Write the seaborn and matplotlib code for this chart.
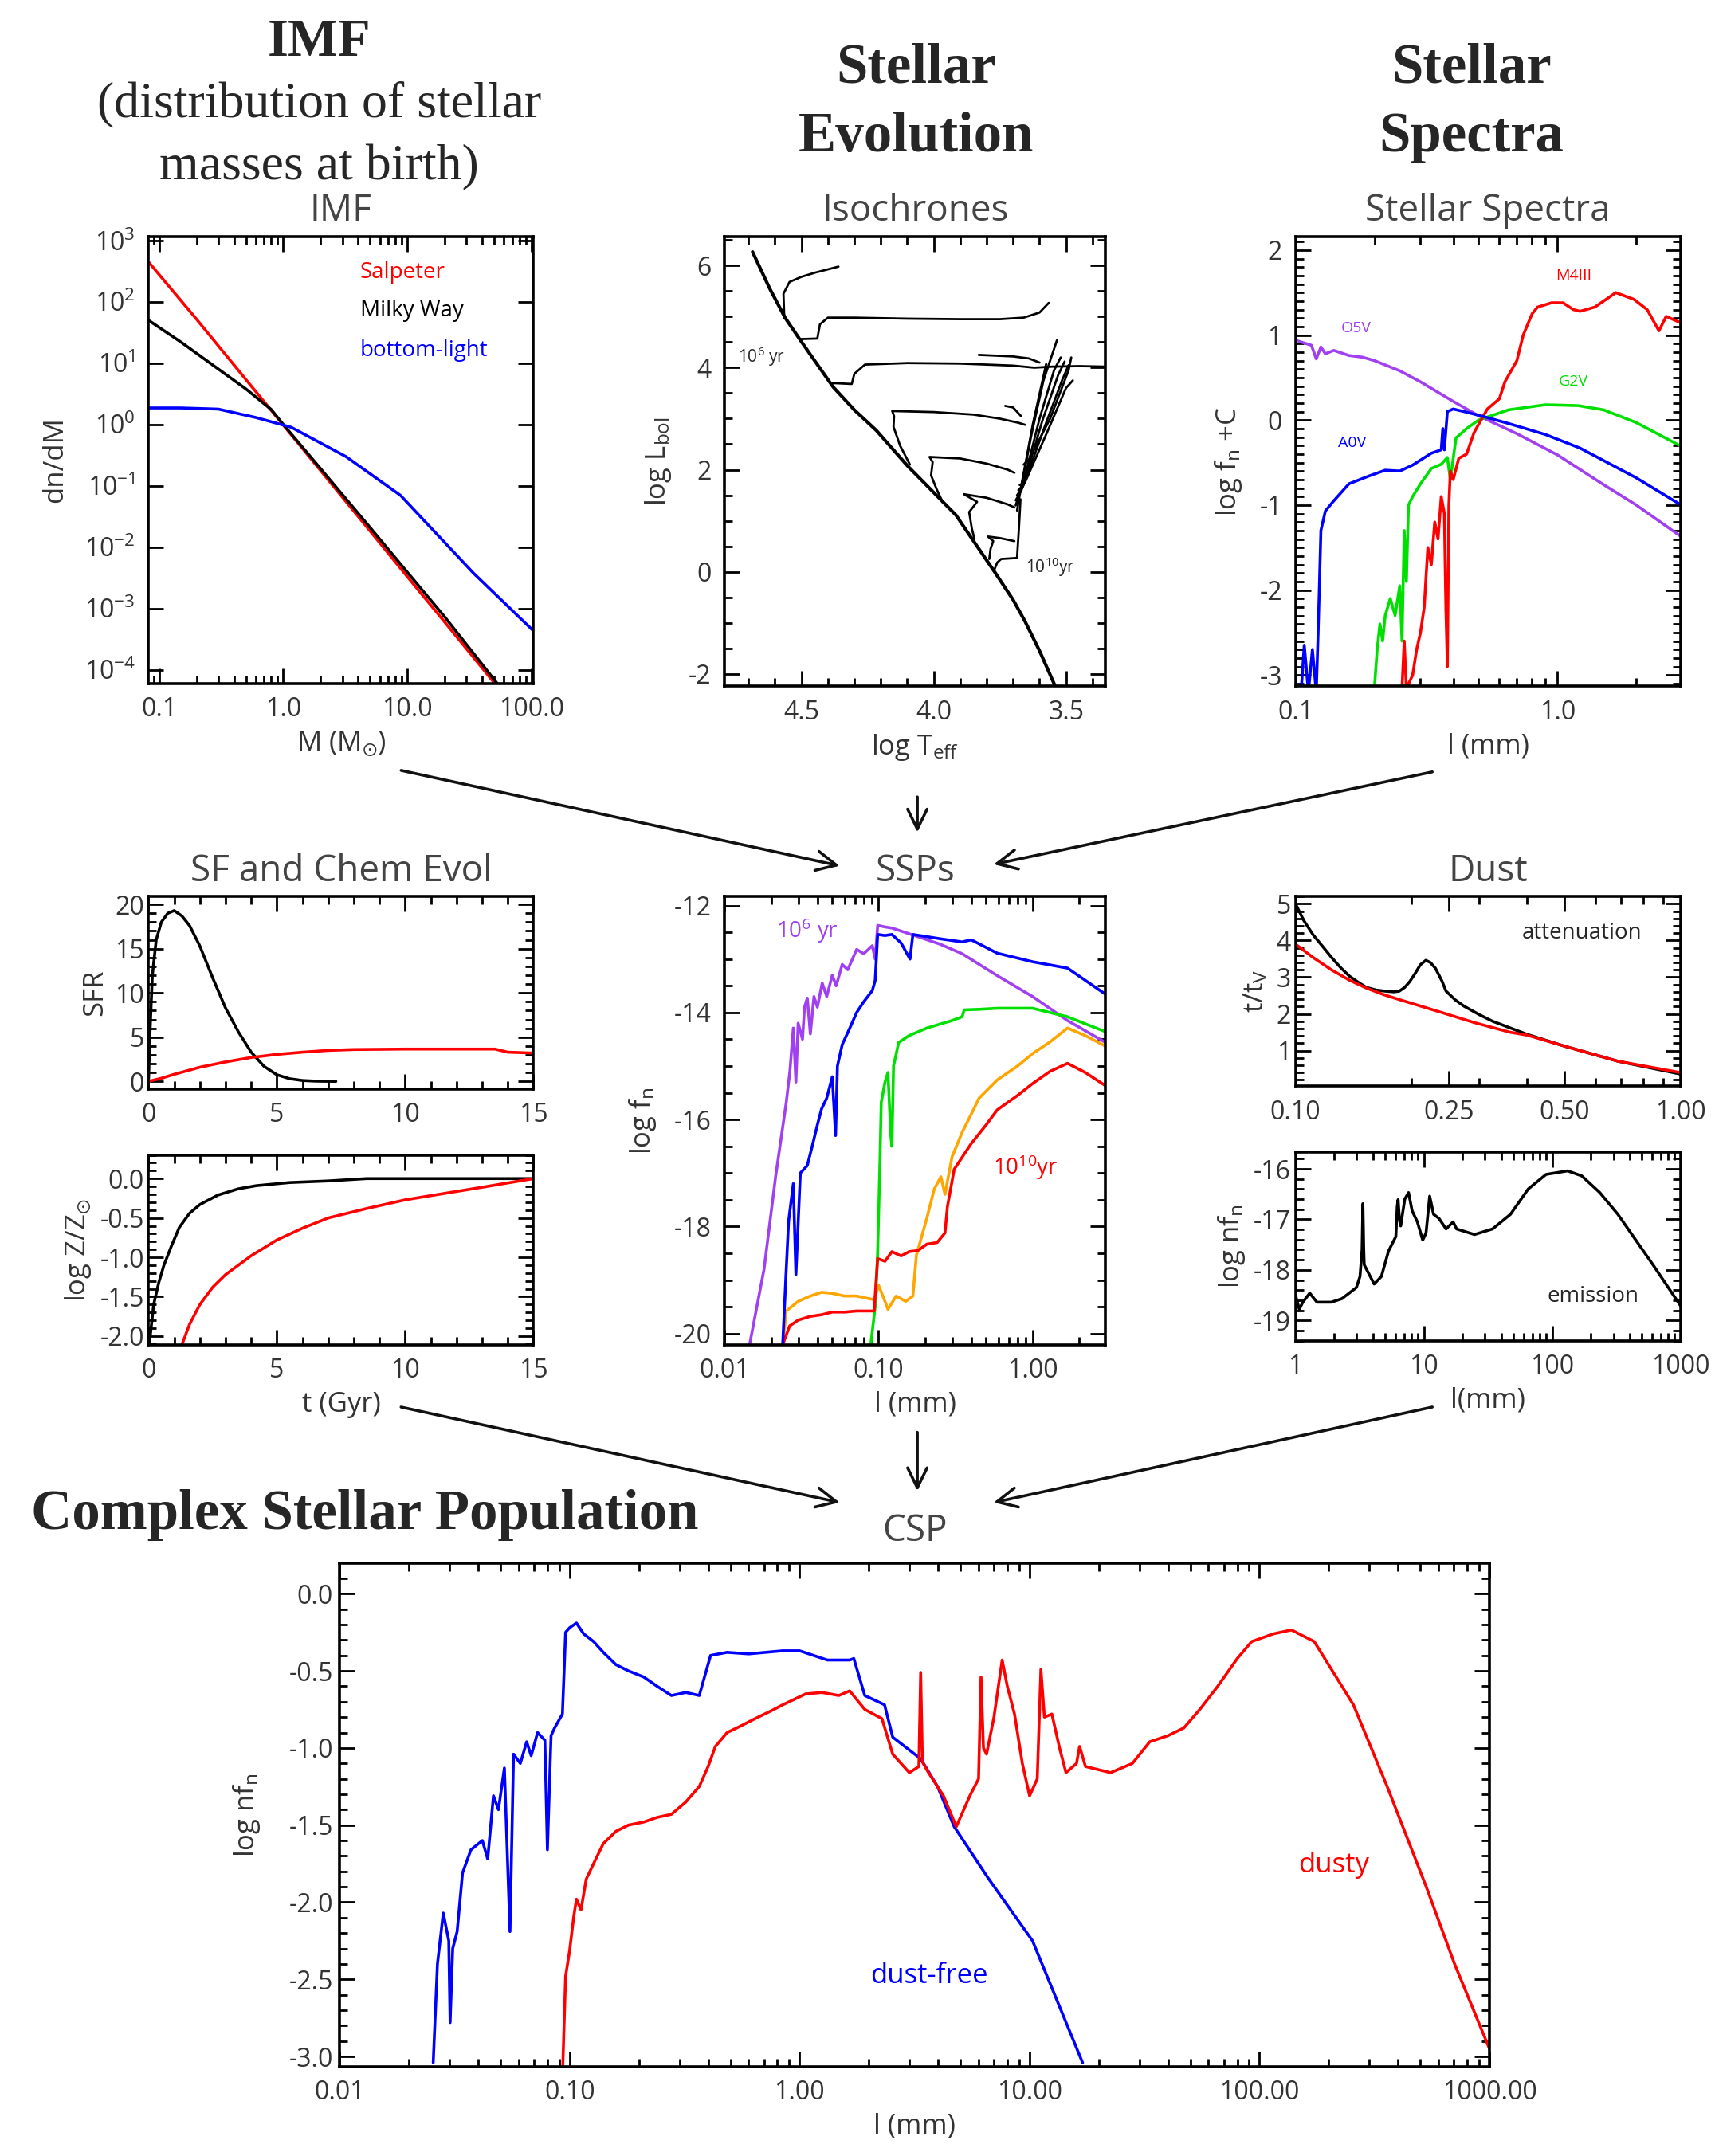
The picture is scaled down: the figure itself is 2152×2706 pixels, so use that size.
import matplotlib
matplotlib.use("Agg")
import matplotlib.pyplot as plt
import seaborn as sns
from matplotlib.patches import FancyArrowPatch
from matplotlib.ticker import (FixedLocator, FixedFormatter, MultipleLocator,
                               NullFormatter, NullLocator)

# ---------------- DATA ----------------
# IMF panel
imf_salp_m = [0.082, 0.2, 0.5, 1.0, 2.0, 5.0, 10.0, 20.0, 51.0]
imf_salp_n = [447, 52, 5.4, 0.98, 0.177, 0.0184, 3.3e-3, 6.0e-4, 5.9e-5]
imf_mw_m = [0.082, 0.15, 0.3, 0.5, 0.8, 1.0, 2.0, 5.0, 10.0, 20.0, 53.0]
imf_mw_n = [50, 22, 8.0, 3.8, 1.75, 1.0, 0.19, 0.021, 3.9e-3, 7.3e-4, 6e-5]
imf_bl_m = [0.082, 0.15, 0.3, 0.6, 1.16, 3.2, 8.8, 34, 104]
imf_bl_n = [1.86, 1.86, 1.78, 1.3, 0.9, 0.30, 0.07, 3.8e-3, 4.3e-4]
imf_legend = ["Salpeter", "Milky Way", "bottom-light"]

# Isochrones panel
ms_logt = [4.685, 4.62, 4.562, 4.507, 4.452, 4.38, 4.30, 4.217, 4.10, 3.99, 3.916,
           3.84, 3.765, 3.70, 3.655, 3.60, 3.541]
ms_logl = [6.27, 5.55, 4.98, 4.56, 4.15, 3.62, 3.17, 2.77, 2.08, 1.50, 1.11,
           0.53, -0.04, -0.55, -0.97, -1.55, -2.24]
iso_a_t = [4.565, 4.568, 4.545, 4.50, 4.45, 4.36]
iso_a_l = [4.98, 5.45, 5.68, 5.78, 5.86, 5.98]
iso_b_t = [4.507, 4.44, 4.43, 4.40, 4.30, 4.10, 3.90, 3.75, 3.66, 3.60, 3.565]
iso_b_l = [4.56, 4.57, 4.85, 4.98, 4.98, 4.96, 4.95, 4.95, 4.98, 5.08, 5.27]
iso_c_t = [4.39, 4.31, 4.30, 4.26, 4.10, 3.90, 3.70, 3.62, 3.55, 3.45, 3.35]
iso_c_l = [3.70, 3.68, 3.88, 4.06, 4.09, 4.08, 4.04, 4.00, 4.02, 4.03, 4.02]
iso_c2_t = [3.83, 3.70, 3.64, 3.60]
iso_c2_l = [4.25, 4.22, 4.18, 4.10]
iso_d_t = [4.09, 4.127, 4.152, 4.15, 4.157, 4.0, 3.85, 3.75, 3.68, 3.655]
iso_d_l = [2.10, 2.47, 2.84, 3.05, 3.15, 3.13, 3.08, 3.0, 2.92, 2.88]
iso_d2_t = [3.73, 3.70, 3.67]
iso_d2_l = [3.25, 3.22, 3.05]
iso_e_t = [3.965, 3.99, 4.01, 4.004, 4.016, 3.90, 3.80, 3.72, 3.695]
iso_e_l = [1.35, 1.63, 1.89, 2.15, 2.25, 2.22, 2.12, 2.0, 1.94]
iso_f_t = [3.846, 3.856, 3.866, 3.836, 3.886, 3.80, 3.72, 3.695]
iso_f_l = [0.64, 0.85, 1.17, 1.37, 1.52, 1.45, 1.32, 1.26]
iso_g_t = [3.79, 3.785, 3.775, 3.795, 3.75, 3.695]
iso_g_l = [0.25, 0.45, 0.60, 0.69, 0.66, 0.60]
iso_h_t = [3.77, 3.76, 3.745, 3.685, 3.678, 3.672]
iso_h_l = [0.05, 0.18, 0.25, 0.27, 0.84, 1.42]
rgb1_t = [3.685, 3.675, 3.63, 3.585, 3.534]
rgb1_l = [1.2, 1.5, 2.7, 3.75, 4.54]
rgb2_t = [3.69, 3.672, 3.625, 3.575]
rgb2_l = [1.3, 1.6, 2.9, 4.07]
rgb3_t = [3.69, 3.668, 3.60, 3.545, 3.52]
rgb3_l = [1.4, 1.6, 3.0, 3.95, 4.2]
rgb4_t = [3.685, 3.664, 3.59, 3.53, 3.505]
rgb4_l = [1.5, 1.65, 2.95, 3.85, 4.12]
rgb5_t = [3.68, 3.66, 3.58, 3.515, 3.49]
rgb5_l = [1.6, 1.7, 2.85, 3.75, 4.05]
rgb6_t = [3.675, 3.655, 3.57, 3.50, 3.474]
rgb6_l = [1.7, 1.75, 2.75, 3.6, 3.75]
rgb7_t = [3.66, 3.64, 3.56, 3.49, 3.48]
rgb7_l = [2.1, 2.2, 3.0, 3.95, 4.2]

# Stellar spectra panel
o5v_x = [0.10, 0.115, 0.12, 0.125, 0.13, 0.14, 0.16, 0.18, 0.2, 0.25, 0.3, 0.4, 0.5, 0.7, 1.0, 1.5, 2.0, 2.93]
o5v_y = [0.94, 0.88, 0.72, 0.86, 0.78, 0.82, 0.76, 0.74, 0.70, 0.58, 0.45, 0.22, 0.05, -0.16, -0.41, -0.76, -1.0, -1.36]
a0v_x = [0.105, 0.108, 0.112, 0.116, 0.120, 0.122, 0.125, 0.13, 0.14, 0.16, 0.19, 0.22, 0.25, 0.28,
         0.33, 0.36, 0.365, 0.37, 0.38, 0.40, 0.44, 0.51, 0.65, 0.9, 1.22, 2.0, 2.93]
a0v_y = [-3.2, -2.65, -3.2, -2.7, -3.2, -2.5, -1.3, -1.07, -0.95, -0.75, -0.66, -0.59, -0.60, -0.53,
         -0.39, -0.35, -0.10, -0.35, 0.10, 0.13, 0.10, 0.05, -0.04, -0.17, -0.33, -0.68, -0.99]
g2v_x = [0.20, 0.205, 0.21, 0.215, 0.22, 0.23, 0.24, 0.25, 0.255, 0.26, 0.265, 0.27, 0.28, 0.30,
         0.33, 0.36, 0.38, 0.39, 0.41, 0.45, 0.5, 0.65, 0.9, 1.2, 1.5, 2.0, 2.93]
g2v_y = [-3.16, -2.7, -2.4, -2.6, -2.3, -2.1, -2.3, -1.95, -2.6, -1.3, -1.9, -1.0, -0.9, -0.75,
         -0.57, -0.52, -0.44, -0.7, -0.21, -0.10, 0.0, 0.12, 0.18, 0.17, 0.12, -0.03, -0.30]
m4iii_x = [0.255, 0.26, 0.265, 0.28, 0.29, 0.30, 0.31, 0.32, 0.33, 0.34, 0.35, 0.36, 0.37, 0.375,
           0.38, 0.385, 0.39, 0.40, 0.42, 0.45, 0.48, 0.50, 0.54, 0.60, 0.63, 0.70, 0.74, 0.80,
           0.84, 0.95, 1.05, 1.15, 1.22, 1.39, 1.5, 1.67, 1.96, 2.2, 2.44, 2.6, 2.93]
m4iii_y = [-3.16, -2.6, -3.16, -3.0, -2.7, -2.5, -2.2, -1.5, -1.7, -1.2, -1.4, -0.9, -1.1, -2.2,
           -2.9, -1.0, -0.6, -0.7, -0.45, -0.4, -0.15, -0.05, 0.13, 0.25, 0.45, 0.7, 1.0, 1.25,
           1.33, 1.38, 1.38, 1.30, 1.28, 1.33, 1.40, 1.50, 1.42, 1.30, 1.05, 1.22, 1.15]

# SF and chemical evolution
sfr_black_t = [0, 0.05, 0.15, 0.3, 0.5, 0.75, 1.0, 1.3, 1.6, 2.0, 2.5, 3.0, 3.5, 4.0, 4.5, 5.0, 5.5, 6.0, 6.5, 7.3]
sfr_black = [0, 5, 12, 16, 18, 19, 19.3, 18.7, 17.6, 15.3, 11.7, 8.3, 5.6, 3.3, 1.7, 0.75, 0.3, 0.1, 0.03, 0.0]
sfr_red_t = [0, 0.5, 1.0, 1.5, 2, 3, 4, 5, 6, 7, 8, 10, 13.5, 14, 15]
sfr_red = [0, 0.35, 0.8, 1.2, 1.6, 2.2, 2.7, 3.05, 3.3, 3.5, 3.6, 3.65, 3.65, 3.3, 3.2]
z_black_t = [0.03, 0.1, 0.2, 0.4, 0.6, 0.9, 1.2, 1.6, 2.0, 2.7, 3.5, 4.2, 5.5, 7, 8.5, 15]
z_black = [-2.11, -1.9, -1.6, -1.32, -1.1, -0.85, -0.62, -0.44, -0.33, -0.21, -0.13, -0.09, -0.05, -0.03, 0.0, 0.0]
z_red_t = [1.3, 1.6, 2.0, 2.5, 3.0, 4.0, 5.0, 6.0, 7.0, 8.5, 10, 11.5, 13, 15]
z_red = [-2.11, -1.85, -1.6, -1.38, -1.22, -0.98, -0.78, -0.63, -0.50, -0.38, -0.27, -0.19, -0.11, 0.0]

# SSPs
ssp_p_x = [0.0145, 0.018, 0.0214, 0.0251, 0.0265, 0.0279, 0.029, 0.030, 0.032, 0.033, 0.0344, 0.036,
           0.038, 0.040, 0.043, 0.046, 0.050, 0.053, 0.058, 0.063, 0.072, 0.080, 0.091, 0.095,
           0.0986, 0.11, 0.122, 0.167, 0.25, 0.349, 0.59, 1.0, 1.69, 2.99]
ssp_p_y = [-20.21, -18.8, -17.07, -15.68, -15.1, -14.29, -15.3, -14.2, -14.5, -13.9, -13.73, -14.4,
           -13.7, -13.9, -13.45, -13.7, -13.3, -13.5, -13.1, -13.2, -12.82, -12.9, -12.75, -13.0,
           -12.37, -12.4, -12.42, -12.55, -12.72, -12.9, -13.31, -13.7, -14.15, -14.56]
ssp_b_x = [0.0238, 0.0251, 0.026, 0.0279, 0.029, 0.031, 0.0344, 0.037, 0.040, 0.0426, 0.046, 0.050,
           0.0525, 0.054, 0.058, 0.065, 0.072, 0.080, 0.091, 0.095, 0.0986, 0.11, 0.122, 0.14, 0.16,
           0.167, 0.25, 0.349, 0.40, 0.59, 1.0, 1.69, 2.99]
ssp_b_y = [-20.21, -18.8, -17.9, -17.2, -18.9, -17.0, -16.86, -16.5, -16.1, -15.8, -15.6, -15.2,
           -16.3, -15.0, -14.6, -14.29, -14.0, -13.8, -13.59, -13.4, -12.54, -12.56, -12.54, -12.7, -13.0,
           -12.54, -12.62, -12.68, -12.64, -12.89, -13.05, -13.17, -13.66]
ssp_g_x = [0.0889, 0.095, 0.0986, 0.102, 0.104, 0.11, 0.115, 0.12, 0.122, 0.125, 0.135, 0.158, 0.206,
           0.30, 0.349, 0.36, 0.45, 0.6, 1.0, 1.69, 2.99]
ssp_g_y = [-20.21, -19.5, -18.47, -16.8, -15.68, -15.3, -15.12, -16.3, -16.5, -15.0, -14.56, -14.43,
           -14.29, -14.15, -14.08, -13.95, -13.94, -13.92, -13.92, -14.08, -14.36]
ssp_o_x = [0.0238, 0.0251, 0.030, 0.036, 0.0426, 0.05, 0.06, 0.072, 0.0935, 0.1, 0.11, 0.115, 0.13,
           0.15, 0.167, 0.176, 0.19, 0.206, 0.23, 0.254, 0.27, 0.30, 0.349, 0.40, 0.45, 0.59, 0.8,
           1.0, 1.3, 1.69, 2.2, 2.99]
ssp_o_y = [-20.21, -19.58, -19.4, -19.3, -19.23, -19.25, -19.3, -19.3, -19.37, -19.1, -19.4, -19.55,
           -19.3, -19.4, -19.3, -18.54, -18.2, -17.84, -17.3, -17.07, -17.4, -16.7, -16.24, -15.9,
           -15.6, -15.26, -15.0, -14.77, -14.55, -14.29, -14.43, -14.63]
ssp_r_x = [0.0238, 0.0264, 0.030, 0.036, 0.0426, 0.05, 0.06, 0.072, 0.0935, 0.0986, 0.11, 0.122,
           0.14, 0.158, 0.18, 0.206, 0.24, 0.27, 0.28, 0.31, 0.35, 0.40, 0.5, 0.59, 0.8, 1.0, 1.3,
           1.69, 2.2, 2.99]
ssp_r_y = [-20.21, -19.86, -19.75, -19.68, -19.65, -19.6, -19.6, -19.58, -19.58, -18.6, -18.65,
           -18.47, -18.55, -18.47, -18.45, -18.33, -18.3, -18.12, -17.63, -16.93, -16.7, -16.45,
           -16.1, -15.82, -15.55, -15.33, -15.1, -14.95, -15.12, -15.37]

# Dust
att_black_x = [0.1, 0.105, 0.111, 0.118, 0.124, 0.131, 0.138, 0.146, 0.153, 0.162, 0.171, 0.18,
               0.186, 0.192, 0.198, 0.205, 0.211, 0.218, 0.224, 0.231, 0.24, 0.246, 0.26, 0.274,
               0.3, 0.325, 0.4, 0.5, 0.688, 1.0]
att_black_y = [5.0, 4.55, 4.16, 3.82, 3.54, 3.26, 3.03, 2.85, 2.72, 2.65, 2.62, 2.6, 2.62, 2.72,
               2.88, 3.12, 3.34, 3.46, 3.4, 3.24, 2.9, 2.62, 2.38, 2.21, 1.98, 1.8, 1.44, 1.12, 0.71, 0.36]
att_red_x = [0.1, 0.111, 0.124, 0.138, 0.153, 0.17, 0.19, 0.236, 0.292, 0.361, 0.4, 0.5, 0.688, 1.0]
att_red_y = [3.9, 3.54, 3.2, 2.92, 2.7, 2.52, 2.36, 2.06, 1.76, 1.5, 1.42, 1.12, 0.71, 0.40]
em_x = [1.0, 1.07, 1.14, 1.29, 1.47, 1.9, 2.3, 2.98, 3.18, 3.30, 3.35, 3.40, 3.43, 4.1, 4.67, 5.3,
        6.05, 6.2, 6.3, 6.45, 6.6, 7.1, 7.6, 8.1, 8.9, 9.8, 10.4, 11.1, 11.9, 13.1, 14.9, 16.9, 18,
        24.8, 34.3, 47.3, 65, 89.6, 132, 170, 235, 325, 448, 618, 1000]
em_y = [-18.5, -18.78, -18.64, -18.46, -18.64, -18.64, -18.57, -18.35, -18.13, -17.6, -16.69, -17.6,
        -17.9, -18.28, -18.13, -17.63, -17.34, -16.75, -16.61, -17.0, -17.13, -16.6, -16.47, -16.83,
        -17.05, -17.41, -17.27, -16.54, -16.9, -16.98, -17.19, -17.05, -17.19, -17.3, -17.19, -16.9,
        -16.4, -16.11, -16.04, -16.14, -16.47, -16.9, -17.41, -17.92, -18.71]

# CSP
csp_free_x = [0.0255, 0.0266, 0.0282, 0.0298, 0.0302, 0.0310, 0.0324, 0.0342, 0.0372, 0.0417, 0.0440,
              0.0466, 0.0490, 0.052, 0.055, 0.057, 0.061, 0.065, 0.068, 0.0725, 0.078, 0.080, 0.083,
              0.086, 0.093, 0.096, 0.100, 0.107, 0.115, 0.127, 0.14, 0.159, 0.18, 0.21, 0.24, 0.277,
              0.32, 0.366, 0.41, 0.484, 0.6, 0.845, 1.0, 1.32, 1.65, 1.72, 1.92, 2.34, 2.54, 3.36,
              3.98, 4.7, 6.58, 10.3, 17.0]
csp_free_y = [-3.04, -2.40, -2.07, -2.25, -2.78, -2.3, -2.19, -1.81, -1.66, -1.60, -1.72, -1.31, -1.40,
              -1.13, -2.19, -1.04, -1.10, -0.96, -1.05, -0.90, -0.95, -1.66, -0.92, -0.87, -0.78,
              -0.25, -0.22, -0.19, -0.26, -0.31, -0.38, -0.46, -0.50, -0.54, -0.60, -0.66, -0.64,
              -0.66, -0.40, -0.38, -0.39, -0.37, -0.37, -0.43, -0.43, -0.42, -0.66, -0.72, -0.93,
              -1.07, -1.25, -1.51, -1.84, -2.25, -3.04]
csp_dusty_x = [0.0933, 0.096, 0.100, 0.104, 0.107, 0.112, 0.118, 0.127, 0.14, 0.159, 0.18, 0.21, 0.24,
               0.277, 0.32, 0.366, 0.40, 0.43, 0.484, 0.55, 0.64, 0.75, 0.845, 1.06, 1.25, 1.48, 1.65,
               1.92, 2.28, 2.54, 3.0, 3.3, 3.36, 3.42, 3.6, 4.22, 4.8, 5.5, 6.0, 6.15, 6.3, 6.5, 7.0,
               7.6, 8.0, 8.6, 9.3, 10.0, 10.8, 11.2, 11.6, 12.5, 13.5, 14.4, 16.0, 16.5, 17.5, 22.5,
               28, 33.3, 40, 46.9, 55, 65.8, 80, 92.5, 115, 137.6, 172.9, 256, 359, 531, 705, 1000]
csp_dusty_y = [-3.07, -2.48, -2.31, -2.1, -1.98, -2.05, -1.85, -1.75, -1.62, -1.54, -1.50, -1.48,
               -1.45, -1.43, -1.35, -1.25, -1.12, -0.99, -0.90, -0.86, -0.81, -0.76, -0.72, -0.65,
               -0.64, -0.66, -0.63, -0.75, -0.81, -1.04, -1.16, -1.12, -0.51, -1.09, -1.15, -1.31,
               -1.51, -1.31, -1.2, -0.54, -1.0, -1.04, -0.8, -0.43, -0.6, -0.78, -1.1, -1.31, -1.2,
               -0.49, -0.8, -0.78, -1.0, -1.16, -1.1, -0.99, -1.12, -1.16, -1.1, -0.96, -0.92, -0.87,
               -0.75, -0.60, -0.42, -0.31, -0.26, -0.235, -0.31, -0.72, -1.25, -1.90, -2.40, -2.95]

# ---------------- STYLE ----------------
sns.set_theme(style="ticks")
plt.rcParams["font.family"] = ["Open Sans", "DejaVu Sans"]
plt.rcParams["axes.unicode_minus"] = False
plt.rcParams["mathtext.default"] = "regular"

TICK_FS = 23
LABEL_FS = 25
TITLE_FS = 33
TXT = "#333333"
LW = 2.6
PURPLE = "#a040f0"
BLUE = "#0000ff"
GREEN = "#00e000"
ORANGE = "#ffa500"
RED = "#ff0000"

fig = plt.figure(figsize=(21.52, 27.06), dpi=100)
fig.patch.set_facecolor("white")


def style(ax):
    for s in ax.spines.values():
        s.set_visible(True)
        s.set_linewidth(2.6)
        s.set_color("black")
    ax.set_facecolor("white")
    ax.tick_params(which="both", direction="in", top=True, right=True,
                   color="black", labelcolor=TXT, labelsize=TICK_FS, width=2)
    ax.tick_params(which="major", length=14, pad=12)
    ax.tick_params(which="minor", length=7)


def line(ax, x, y, color, lw=LW):
    sns.lineplot(x=x, y=y, ax=ax, color=color, lw=lw, sort=False,
                 estimator=None, legend=False)


def fixed_ticks(axis, vals, labels):
    axis.set_major_locator(FixedLocator(vals))
    axis.set_major_formatter(FixedFormatter(labels))


def labels(ax, xl, yl, title=None, tpad=14, xpad=6, ypad=10):
    ax.set_xlabel(xl, fontsize=LABEL_FS, color=TXT, labelpad=xpad)
    ax.set_ylabel(yl, fontsize=LABEL_FS, color=TXT, labelpad=ypad)
    if title:
        ax.set_title(title, fontsize=TITLE_FS, color="#444444", pad=tpad)


# ---- IMF ----
ax = fig.add_axes([0.0866, 0.683, 0.2245, 0.2073])
ax.set_xscale("log"); ax.set_yscale("log")
line(ax, imf_salp_m, imf_salp_n, RED)
line(ax, imf_mw_m, imf_mw_n, "black")
line(ax, imf_bl_m, imf_bl_n, BLUE)
ax.set_xlim(0.082, 104); ax.set_ylim(6e-5, 1.16e3)
fixed_ticks(ax.xaxis, [0.1, 1, 10, 100], ["0.1", "1.0", "10.0", "100.0"])
ax.xaxis.set_minor_formatter(NullFormatter())
ax.yaxis.set_major_locator(FixedLocator([10.0 ** k for k in range(-4, 4)]))
ax.yaxis.set_minor_locator(NullLocator())
style(ax)
labels(ax, r"M (M$_{\odot}$)", "dn/dM", "IMF", ypad=14)
for name, col, yy in zip(imf_legend, [RED, "black", BLUE], [0.92, 0.834, 0.745]):
    ax.text(0.55, yy, name, color=col, fontsize=20, transform=ax.transAxes, va="center")

# ---- Isochrones ----
ax = fig.add_axes([0.4226, 0.6818, 0.2221, 0.2085])
line(ax, ms_logt, ms_logl, "black", lw=3.0)
for tt, ll in [(iso_a_t, iso_a_l), (iso_b_t, iso_b_l), (iso_c_t, iso_c_l), (iso_c2_t, iso_c2_l),
               (iso_d_t, iso_d_l), (iso_d2_t, iso_d2_l), (iso_e_t, iso_e_l), (iso_f_t, iso_f_l),
               (iso_g_t, iso_g_l), (iso_h_t, iso_h_l), (rgb1_t, rgb1_l), (rgb2_t, rgb2_l),
               (rgb3_t, rgb3_l), (rgb4_t, rgb4_l), (rgb5_t, rgb5_l), (rgb6_t, rgb6_l),
               (rgb7_t, rgb7_l)]:
    line(ax, tt, ll, "black", lw=2.0)
ax.set_xlim(4.79, 3.35); ax.set_ylim(-2.24, 6.57)
fixed_ticks(ax.xaxis, [4.5, 4.0, 3.5], ["4.5", "4.0", "3.5"])
ax.xaxis.set_minor_locator(MultipleLocator(0.1))
fixed_ticks(ax.yaxis, [-2, 0, 2, 4, 6], ["-2", "0", "2", "4", "6"])
ax.yaxis.set_minor_locator(MultipleLocator(0.5))
style(ax)
labels(ax, r"log T$_{eff}$", r"log L$_{bol}$", "Isochrones", ypad=14)
ax.text(4.65, 4.22, r"10$^6$ yr", fontsize=15, ha="center", va="center")
ax.text(3.56, 0.09, r"10$^{10}$yr", fontsize=15, ha="center", va="center")

# ---- Stellar spectra ----
ax = fig.add_axes([0.7554, 0.6818, 0.2245, 0.2085])
ax.set_xscale("log")
line(ax, o5v_x, o5v_y, PURPLE)
line(ax, g2v_x, g2v_y, GREEN)
line(ax, m4iii_x, m4iii_y, RED)
line(ax, a0v_x, a0v_y, BLUE)
ax.set_xlim(0.1, 2.95); ax.set_ylim(-3.13, 2.16)
fixed_ticks(ax.xaxis, [0.1, 1.0], ["0.1", "1.0"])
ax.xaxis.set_minor_formatter(NullFormatter())
fixed_ticks(ax.yaxis, [-3, -2, -1, 0, 1, 2], ["-3", "-2", "-1", "0", "1", "2"])
ax.yaxis.set_minor_locator(MultipleLocator(0.1))
style(ax)
labels(ax, "l (mm)", r"log f$_n$ +C", "Stellar Spectra", ypad=14)
for txt, col, xx, yy in [("M4III", RED, 1.15, 1.70), ("O5V", PURPLE, 0.17, 1.08),
                         ("G2V", GREEN, 1.15, 0.45), ("A0V", BLUE, 0.165, -0.27)]:
    ax.text(xx, yy, txt, color=col, fontsize=14, ha="center", va="center")

# ---- SF ----
ax = fig.add_axes([0.0866, 0.4949, 0.2245, 0.0893])
line(ax, sfr_black_t, sfr_black, "black")
line(ax, sfr_red_t, sfr_red, RED)
ax.set_xlim(0, 15); ax.set_ylim(-0.86, 20.9)
fixed_ticks(ax.xaxis, [0, 5, 10, 15], ["0", "5", "10", "15"])
ax.xaxis.set_minor_locator(MultipleLocator(1))
fixed_ticks(ax.yaxis, [0, 5, 10, 15, 20], ["0", "5", "10", "15", "20"])
ax.yaxis.set_minor_locator(MultipleLocator(1))
style(ax)
ax.tick_params(axis="y", pad=4)
labels(ax, "", "SFR", "SF and Chem Evol", tpad=14, ypad=6)

ax = fig.add_axes([0.0866, 0.3763, 0.2245, 0.0880])
line(ax, z_black_t, z_black, "black")
line(ax, z_red_t, z_red, RED)
ax.set_xlim(0, 15); ax.set_ylim(-2.11, 0.30)
fixed_ticks(ax.xaxis, [0, 5, 10, 15], ["0", "5", "10", "15"])
ax.xaxis.set_minor_locator(MultipleLocator(1))
fixed_ticks(ax.yaxis, [-2, -1.5, -1, -0.5, 0], ["-2.0", "-1.5", "-1.0", "-0.5", "0.0"])
ax.yaxis.set_minor_locator(MultipleLocator(0.1))
style(ax)
ax.tick_params(axis="y", pad=4)
labels(ax, "t (Gyr)", r"log Z/Z$_{\odot}$", ypad=6)

# ---- SSPs ----
ax = fig.add_axes([0.4226, 0.3763, 0.2221, 0.2079])
ax.set_xscale("log")
line(ax, ssp_p_x, ssp_p_y, PURPLE)
line(ax, ssp_g_x, ssp_g_y, GREEN)
line(ax, ssp_o_x, ssp_o_y, ORANGE)
line(ax, ssp_r_x, ssp_r_y, RED)
line(ax, ssp_b_x, ssp_b_y, BLUE)
ax.set_xlim(0.01, 2.99); ax.set_ylim(-20.21, -11.83)
fixed_ticks(ax.xaxis, [0.01, 0.1, 1.0], ["0.01", "0.10", "1.00"])
ax.xaxis.set_minor_formatter(NullFormatter())
fixed_ticks(ax.yaxis, [-20, -18, -16, -14, -12], ["-20", "-18", "-16", "-14", "-12"])
ax.yaxis.set_minor_locator(MultipleLocator(0.5))
style(ax)
labels(ax, "l (mm)", r"log f$_n$", "SSPs", tpad=14, ypad=14)
ax.text(0.0344, -12.47, r"10$^6$ yr", color=PURPLE, fontsize=20, ha="center", va="center")
ax.text(0.9, -16.9, r"10$^{10}$yr", color=RED, fontsize=20, ha="center", va="center")

# ---- Dust ----
ax = fig.add_axes([0.7554, 0.4962, 0.2245, 0.0880])
ax.set_xscale("log")
line(ax, att_black_x, att_black_y, "black")
line(ax, att_red_x, att_red_y, RED)
ax.set_xlim(0.1, 1.0); ax.set_ylim(0.03, 5.2)
fixed_ticks(ax.xaxis, [0.1, 0.25, 0.5, 1.0], ["0.10", "0.25", "0.50", "1.00"])
ax.xaxis.set_minor_formatter(NullFormatter())
fixed_ticks(ax.yaxis, [1, 2, 3, 4, 5], ["1", "2", "3", "4", "5"])
ax.yaxis.set_minor_locator(MultipleLocator(0.2))
style(ax)
ax.tick_params(axis="y", pad=4)
labels(ax, "", r"t/t$_V$", "Dust", tpad=14, ypad=6)
ax.text(0.555, 4.21, "attenuation", fontsize=20, ha="center", va="center")

ax = fig.add_axes([0.7554, 0.3782, 0.2245, 0.0874])
ax.set_xscale("log")
line(ax, em_x, em_y, "black")
ax.set_xlim(1, 1000); ax.set_ylim(-19.4, -15.67)
fixed_ticks(ax.xaxis, [1, 10, 100, 1000], ["1", "10", "100", "1000"])
ax.xaxis.set_minor_formatter(NullFormatter())
fixed_ticks(ax.yaxis, [-19, -18, -17, -16], ["-19", "-18", "-17", "-16"])
ax.yaxis.set_minor_locator(MultipleLocator(0.2))
style(ax)
ax.tick_params(axis="y", pad=4)
labels(ax, "l(mm)", r"log nf$_n$", ypad=6)
ax.text(207, -18.53, "emission", fontsize=20, ha="center", va="center")

# ---- CSP ----
ax = fig.add_axes([0.1981, 0.0415, 0.6704, 0.2334])
ax.set_xscale("log")
line(ax, csp_free_x, csp_free_y, BLUE)
line(ax, csp_dusty_x, csp_dusty_y, RED)
ax.set_xlim(0.01, 1000); ax.set_ylim(-3.065, 0.197)
fixed_ticks(ax.xaxis, [0.01, 0.1, 1, 10, 100, 1000],
            ["0.01", "0.10", "1.00", "10.00", "100.00", "1000.00"])
ax.xaxis.set_minor_formatter(NullFormatter())
fixed_ticks(ax.yaxis, [-3, -2.5, -2, -1.5, -1, -0.5, 0],
            ["-3.0", "-2.5", "-2.0", "-1.5", "-1.0", "-0.5", "0.0"])
ax.yaxis.set_minor_locator(MultipleLocator(0.1))
style(ax)
ax.tick_params(axis="y", pad=6)
labels(ax, "l (mm)", r"log nf$_n$", "CSP", tpad=20, ypad=24)
ax.text(3.66, -2.48, "dust-free", color=BLUE, fontsize=25, ha="center", va="center")
ax.text(210, -1.76, "dusty", color=RED, fontsize=25, ha="center", va="center")

# ---- Headers ----
SERIF = ["Liberation Serif", "DejaVu Serif"]
fig.text(0.186, 0.9741, "IMF", ha="center", va="baseline", fontsize=48,
         fontweight="bold", family=SERIF)
fig.text(0.186, 0.9460, "(distribution of stellar", ha="center", va="baseline",
         fontsize=46, family=SERIF)
fig.text(0.186, 0.9168, "masses at birth)", ha="center", va="baseline", fontsize=46, family=SERIF)
fig.text(0.5341, 0.9616, "Stellar", ha="center", va="baseline", fontsize=51,
         fontweight="bold", family=SERIF)
fig.text(0.5341, 0.9298, "Evolution", ha="center", va="baseline", fontsize=51,
         fontweight="bold", family=SERIF)
fig.text(0.8581, 0.9616, "Stellar", ha="center", va="baseline", fontsize=51,
         fontweight="bold", family=SERIF)
fig.text(0.8581, 0.9298, "Spectra", ha="center", va="baseline", fontsize=51,
         fontweight="bold", family=SERIF)
fig.text(0.0179, 0.2910, "Complex Stellar Population", ha="left", va="baseline", fontsize=51,
         fontweight="bold", family=SERIF)

# ---- Arrows ----
def arrow(p0, p1):
    a = FancyArrowPatch(p0, p1, transform=fig.transFigure,
                        arrowstyle="->,head_length=0.45,head_width=0.22",
                        mutation_scale=40, lw=2.6, color="#111111")
    fig.add_artist(a)

arrow((0.2326, 0.6429), (0.4908, 0.5982))
arrow((0.5349, 0.6314), (0.5349, 0.6129))
arrow((0.8364, 0.6422), (0.5782, 0.5989))
arrow((0.2326, 0.3476), (0.4908, 0.3029))
arrow((0.5349, 0.3367), (0.5349, 0.3074))
arrow((0.8364, 0.3476), (0.5782, 0.3029))

fig.savefig("out.png", dpi=100, facecolor="white")
